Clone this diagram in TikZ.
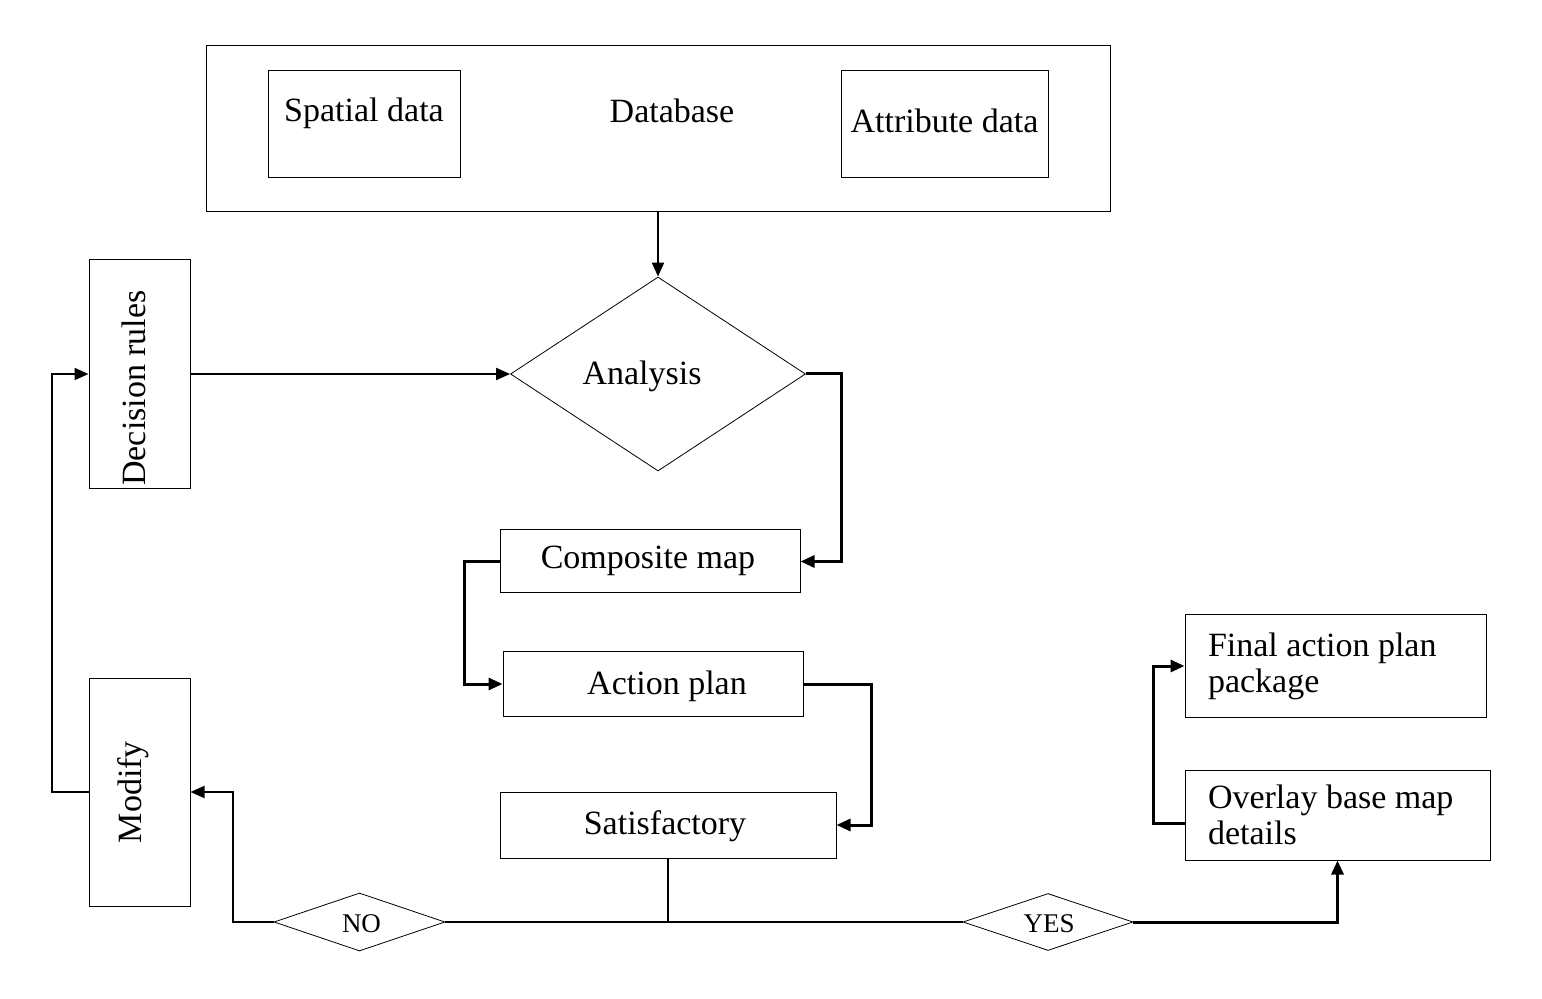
\documentclass[tikz,border=0pt]{standalone}
\usepackage{fontspec}
\setmainfont{Liberation Serif}
\usetikzlibrary{arrows.meta,shapes.geometric}
\begin{document}
\begin{tikzpicture}[x=0.5pt,y=-0.5pt,
  big/.style={font=\fontsize{17}{18}\selectfont},
  small/.style={font=\fontsize{13.5}{14}\selectfont},
  box/.style={draw,line width=0.5pt,rectangle,inner sep=0pt},
  dia/.style={draw,line width=0.4pt,diamond,inner sep=0pt},
  conn/.style={line width=1pt,-{Triangle[length=7pt,width=6pt]}},
  elbow/.style={line width=1.5pt,-{Triangle[length=7pt,width=6pt]}},
  plain/.style={line width=1.3pt},
  txtbox/.style={box,big,align=flush left,inner xsep=11.5pt}
]
\useasboundingbox (0,0) rectangle (1542,999);
% Database
\node[box,minimum width=452pt,minimum height=83pt] (db) at (658,129) {};
\node[big] (dbt) at (672,110.5) {Database};
\node[box,minimum width=96pt,minimum height=53.5pt,
  label={[big,yshift=5.8pt]center:Spatial data}] (sp) at (364,124.5) {};
\node[box,minimum width=103.5pt,minimum height=53.5pt,
  label={[big,yshift=1.8pt]center:Attribute data}] (at) at (944.5,124.5) {};
% Analysis
\node[dia,minimum width=147.5pt,minimum height=97pt,
  label={[big,xshift=-8pt,yshift=-1pt]center:Analysis}] (an) at (658,374) {};
% Decision rules
\node[box,minimum width=50.5pt,minimum height=114.5pt,
  label={[big,rotate=90,xshift=-7pt,yshift=3pt]center:Decision rules}] (dr) at (139.5,374) {};
% Modify
\node[box,minimum width=50.5pt,minimum height=114pt,
  label={[big,rotate=90,yshift=3pt]center:Modify}] (mo) at (139.5,792) {};
% Composite map etc
\node[box,minimum width=150pt,minimum height=31.5pt,
  label={[big,xshift=-1pt,yshift=0.3pt]center:Composite map}] (cm) at (650,561.5) {};
\node[box,minimum width=150pt,minimum height=32pt,
  label={[big,xshift=7pt,yshift=-1.2pt]center:Action plan}] (ap) at (653,684) {};
\node[box,minimum width=168pt,minimum height=33pt,
  label={[big,xshift=-1.5pt,yshift=-0.8pt]center:Satisfactory}] (sa) at (668,825) {};
% NO / YES
\node[dia,minimum width=85.5pt,minimum height=29pt,
  label={[small,xshift=1pt,yshift=-0.8pt]center:NO}] (no) at (359.5,922) {};
\node[dia,minimum width=85pt,minimum height=28.5pt,
  label={[small,xshift=0.5pt,yshift=-1pt]center:YES}] (yes) at (1048,922) {};
% right boxes
\node[txtbox,minimum width=150.5pt,minimum height=51pt,text width=127.5pt] (fa) at (1335.5,666) {Final action plan\\package};
\node[txtbox,minimum width=152.5pt,minimum height=45pt,text width=129.5pt] (ov) at (1337.5,815) {Overlay base map\\details};
\coordinate (ovl) at ([yshift=-4pt]ov.west);
% connectors
\draw[conn] (db.south) -- (an.north);
\draw[conn] (dr.east) -- (an.west);
\draw[elbow] (an.east) -- (841,374) |- (cm.east);
\draw[elbow] (cm.west) -- (464,561.5) |- (ap.west);
\draw[elbow] (ap.east) -- (871,684) |- (sa.east);
\draw[line width=0.6pt] (sa.south) -- (668,922);
\draw[plain] (no.east) -- (yes.west);
\draw[conn] (no.west) -- (233,922) |- (mo.east);
\draw[conn] (mo.west) -- (52,792) |- (dr.west);
\draw[elbow] (yes.east) -| (ov.south);
\draw[elbow] (ovl) -- (1153,823) |- (fa.west);
\end{tikzpicture}
\end{document}
